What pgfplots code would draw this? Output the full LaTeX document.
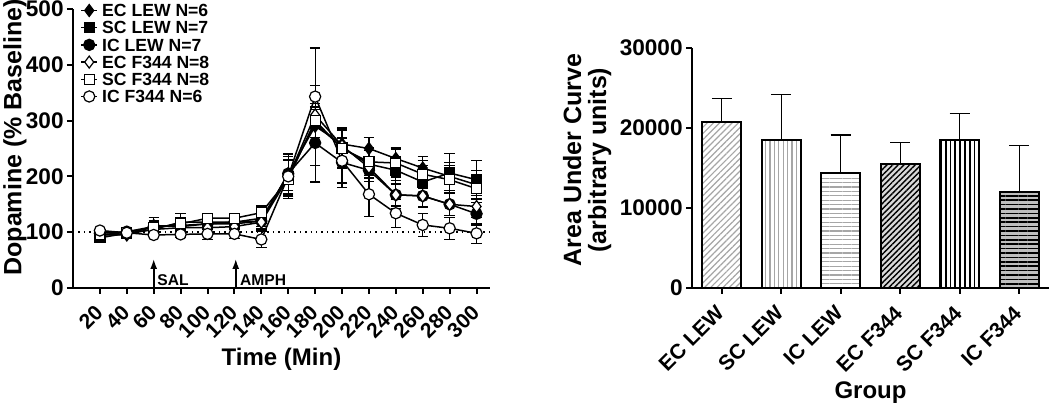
\documentclass[border=0pt]{standalone}
\usepackage{fontspec}
\setmainfont{Liberation Sans}
\usepackage{pgfplots}
\usepackage{pgfplotstable}
\pgfplotsset{compat=1.18}
\usetikzlibrary{patterns.meta,arrows.meta}

\pgfplotstableread{
t ecl ecle scl scle icl icle ecf ecfe scf scfe icf icfe
20 95 5 90 5 98 5 95 5 95 5 103 5
40 95 5 98 5 101 5 97 5 100 5 99 5
60 112 15 105 8 110 10 105 8 108 10 95 5
80 110 10 118 15 112 10 108 10 115 10 96 5
100 115 10 118 12 115 10 108 10 125 8 97 10
120 115 10 118 12 118 10 110 10 125 8 97 8
140 120 10 125 15 120 15 118 12 135 12 87 15
160 205 30 200 35 205 35 198 30 195 35 200 35
180 290 30 295 30 260 40 310 120 300 30 343 20
200 258 30 252 30 225 45 255 30 250 35 228 40
220 250 20 222 25 211 20 216 20 226 25 168 40
240 232 20 211 25 167 25 167 20 224 25 134 25
260 215 20 190 30 165 20 165 20 204 25 113 20
280 200 25 206 35 150 20 150 20 194 25 107 20
300 185 25 194 35 133 20 146 20 178 25 98 18
}\dopa

\newcommand{\fs}[1]{\bfseries\fontsize{#1}{#1}\selectfont}

\pgfplotsset{
  ser/.style={black, line width=0.75pt,
    error bars/y dir=both, error bars/y explicit,
    error bars/error bar style={line width=0.6pt, solid},
    error bars/error mark options={rotate=90, mark size=2.6pt, line width=0.6pt, solid}},
  bstyle/.style={ybar, bar width=0.66, bar shift=0pt, draw=black, line width=1pt,
    error bars/y dir=plus, error bars/y explicit,
    error bars/error bar style={line width=0.7pt, black},
    error bars/error mark options={rotate=90, mark size=5pt, line width=0.7pt, black}},
}

\begin{document}
\begin{tikzpicture}
\useasboundingbox (0,0) rectangle (525pt,203.5pt);
\begin{axis}[
  at={(36.5pt,59.5pt)}, anchor=south west,
  scale only axis, width=208.5pt, height=139.5pt,
  xmin=0, xmax=310, ymin=0, ymax=500,
  axis x line*=bottom, axis y line*=left,
  axis line style={line width=1pt},
  tick style={line width=1pt, black},
  tick align=outside, major tick length=3pt,
  xtick={20,40,...,300}, ytick={0,100,...,500},
  /pgf/number format/assume math mode=true,
  tick label style={font=\fs{11.3}},
  xticklabel style={font=\fs{10.5}, rotate=45, anchor=east, inner sep=0.5pt, yshift=-5pt, xshift=-5pt},
  yticklabel style={inner sep=1.5pt},
  xlabel={Time (Min)}, ylabel={Dopamine (\% Baseline)},
  xlabel style={font=\fs{12}, yshift=0pt},
  ylabel style={font=\fs{12.5}, at={(axis description cs:-0.139,0.54)}, anchor=center},
  legend style={at={(rel axis cs:0.017,1.023)}, anchor=north west, draw=none, fill=none,
    font=\fs{8.8}, inner sep=0pt, row sep=1.1pt,
    nodes={inner sep=0.6pt, text height=6.3pt, text depth=0pt},
    /tikz/every odd column/.append style={column sep=1.5pt}},
  legend cell align=left,
  legend image code/.code={\draw[mark repeat=2,mark phase=2] plot coordinates {(0pt,0pt) (4pt,0pt) (8pt,0pt)};},
  clip=false,
]
\addplot[ser, mark=diamond*, mark size=3pt, mark options={fill=black, solid, line width=0.6pt}] table[x=t, y=ecl, y error=ecle] {\dopa};
\addlegendentry{EC LEW N=6}
\addplot[ser, mark=square*, mark size=2.5pt, mark options={fill=black, solid, line width=0.6pt}] table[x=t, y=scl, y error=scle] {\dopa};
\addlegendentry{SC LEW N=7}
\addplot[ser, mark=*, mark size=2.8pt, mark options={fill=black, solid, line width=0.6pt}] table[x=t, y=icl, y error=icle] {\dopa};
\addlegendentry{IC LEW N=7}
\addplot[ser, mark=diamond*, mark size=3pt, mark options={fill=white, solid, line width=0.6pt}] table[x=t, y=ecf, y error=ecfe] {\dopa};
\addlegendentry{EC F344 N=8}
\addplot[ser, mark=square*, mark size=2.5pt, mark options={fill=white, solid, line width=0.6pt}] table[x=t, y=scf, y error=scfe] {\dopa};
\addlegendentry{SC F344 N=8}
\addplot[ser, mark=*, mark size=2.8pt, mark options={fill=white, solid, line width=0.6pt}] table[x=t, y=icf, y error=icfe] {\dopa};
\addlegendentry{IC F344 N=6}
\addplot[black, dotted, line width=0.7pt, forget plot] coordinates {(0,100) (310,100)};
\draw[-{Latex[length=5pt,width=3.5pt]}, line width=0.8pt] (axis cs:60,0) -- (axis cs:60,52);
\node[anchor=south west, inner sep=0pt, font=\fs{7.8}] at (axis cs:62.5,3.5) {SAL};
\draw[-{Latex[length=5pt,width=3.5pt]}, line width=0.8pt] (axis cs:121,0) -- (axis cs:121,52);
\node[anchor=south west, inner sep=0pt, font=\fs{7.8}] at (axis cs:124,3.5) {AMPH};
\end{axis}

\begin{axis}[
  at={(346pt,59.5pt)}, anchor=south west,
  scale only axis, width=178.5pt, height=120pt,
  xmin=-0.5, xmax=5.5, ymin=0, ymax=30000,
  axis x line*=bottom, axis y line*=left,
  axis line style={line width=1pt},
  tick style={line width=1pt, black},
  tick align=outside, major tick length=3pt,
  xtick={0,...,5},
  xticklabels={EC LEW, SC LEW, IC LEW, EC F344, SC F344, IC F344},
  ytick={0,10000,20000,30000},
  scaled y ticks=false,
  /pgf/number format/set thousands separator={},
  /pgf/number format/assume math mode=true,
  tick label style={font=\fs{11.3}},
  xticklabel style={font=\fs{10.5}, rotate=45, anchor=east, inner sep=0.5pt, yshift=-5pt, xshift=-5.5pt},
  yticklabel style={inner sep=1.5pt},
  xlabel={Group},
  ylabel={Area Under Curve\\(arbitrary units)},
  xlabel style={font=\fs{12}, yshift=0pt},
  ylabel style={font=\fs{12.5}, align=center, at={(axis description cs:-0.294,0.533)}, anchor=center},
  clip=false,
]
\addplot[bstyle, fill=white, postaction={pattern={Lines[angle=45,distance=2.2pt,line width=0.6pt]}, pattern color=gray!70}]
  coordinates {(0,20700) +- (0,3000)};
\addplot[bstyle, fill=white, postaction={pattern={Lines[angle=90,distance=2.2pt,line width=0.6pt]}, pattern color=gray!70}]
  coordinates {(1,18540) +- (0,5620)};
\addplot[bstyle, fill=white, postaction={pattern={Lines[angle=0,distance=2.2pt,line width=0.6pt]}, pattern color=gray!70}]
  coordinates {(2,14330) +- (0,4790)};
\addplot[bstyle, fill=gray!30, postaction={pattern={Lines[angle=45,distance=2pt,line width=0.7pt]}, pattern color=black}]
  coordinates {(3,15540) +- (0,2660)};
\addplot[bstyle, fill=white, postaction={pattern={Lines[angle=90,distance=2.4pt,line width=0.9pt]}, pattern color=black}]
  coordinates {(4,18540) +- (0,3250)};
\addplot[bstyle, fill=gray!50, postaction={pattern={Lines[angle=0,distance=2.2pt,line width=0.8pt]}, pattern color=black}]
  coordinates {(5,11950) +- (0,5880)};
\end{axis}
\end{tikzpicture}
\end{document}
